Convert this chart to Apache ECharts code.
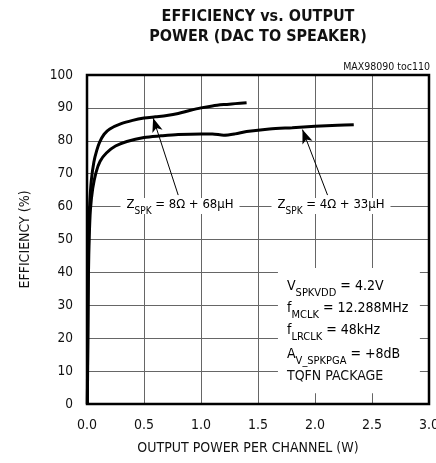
<!DOCTYPE html>
<html><head><meta charset="utf-8">
<script src="https://cdn.jsdelivr.net/npm/echarts@6/dist/echarts.min.js"></script>
<style>html,body{margin:0;padding:0;background:#fff}#c{width:436px;height:463px}</style>
</head><body><div id="c"></div>
<script>
// Data (x = output power per channel in W, y = efficiency in %)
const eff8ohm = [[0.003,0],[0.006,20],[0.010,40],[0.016,53],[0.024,61],[0.038,68],[0.06,73.5],[0.085,77],[0.11,79.5],[0.15,82],[0.2,83.6],[0.3,85.2],[0.4,86.2],[0.5,86.9],[0.6,87.3],[0.7,87.7],[0.8,88.3],[0.9,89.2],[1.0,90],[1.1,90.6],[1.2,91],[1.3,91.3],[1.4,91.6]];
const eff4ohm = [[0.003,0],[0.008,20],[0.013,40],[0.02,51],[0.03,59],[0.05,65.5],[0.08,70.5],[0.115,73.8],[0.17,76.3],[0.25,78.4],[0.35,79.8],[0.5,81],[0.65,81.5],[0.8,81.9],[1.0,82.1],[1.1,82.1],[1.2,81.7],[1.3,82.1],[1.4,82.8],[1.6,83.6],[1.8,84],[2.0,84.4],[2.2,84.7],[2.34,84.9]];
const xTicks = ['0.0','0.5','1.0','1.5','2.0','2.5','3.0'];
const yTicks = [0,10,20,30,40,50,60,70,80,90,100];
const arrow8 = [[0.80,63.5],[0.58,86.9]];
const arrow4 = [[2.11,63.5],[1.89,83.4]];
const noteBox = [[1.675,3.3],[2.92,41.3]];

const FONT = '"Liberation Sans Narrow","DejaVu Sans Condensed","Roboto",sans-serif';
const chart = echarts.init(document.getElementById('c'));
function rich(main, sub, lh, pad){
  return {
    n:{fontFamily:FONT,fontSize:main,color:'#111',lineHeight:lh,verticalAlign:'top'},
    s:{fontFamily:FONT,fontSize:sub,color:'#111',lineHeight:sub+1,padding:[pad,0,0,0],verticalAlign:'top'}
  };
}
const zRich = rich(13,10,16,8);
const boxRich = rich(14,11,18,9);
chart.setOption({
  animation:false,
  grid:{left:87,right:7,top:75,bottom:59,show:true,borderColor:'#000',borderWidth:2.5,z:3,
    containLabel:false,outerBoundsMode:'none'},
  xAxis:{type:'value',min:0,max:3,interval:0.5,
    axisLine:{show:false},axisTick:{show:false},
    splitLine:{show:true,lineStyle:{color:'#666',width:1}},
    axisLabel:{fontFamily:FONT,fontSize:14,color:'#111',margin:14,formatter:(v)=>xTicks[Math.round(v*2)]},
    name:'OUTPUT POWER PER CHANNEL (W)',nameLocation:'middle',nameGap:37,
    nameTextStyle:{fontFamily:FONT,fontSize:14,color:'#111',padding:[0,20,0,0]}},
  yAxis:{type:'value',min:0,max:100,interval:10,
    axisLine:{show:false},axisTick:{show:false},
    splitLine:{show:true,lineStyle:{color:'#666',width:1}},
    axisLabel:{fontFamily:FONT,fontSize:13.5,color:'#111',margin:14,formatter:(v)=>String(yTicks[Math.round(v/10)])},
    name:'EFFICIENCY (%)',nameLocation:'middle',nameGap:55,nameRotate:90,
    nameTextStyle:{fontFamily:FONT,fontSize:14,color:'#111'}},
  series:[
    {type:'line',data:eff8ohm,smooth:0.3,symbol:'none',lineStyle:{color:'#000',width:3},z:5,
      markLine:{silent:true,symbol:['none','arrow'],symbolSize:[8,14],
        lineStyle:{color:'#000',width:1,type:'solid'},label:{show:false},
        data:[[{coord:arrow8[0]},{coord:arrow8[1]}],[{coord:arrow4[0]},{coord:arrow4[1]}]]}},
    {type:'line',data:eff4ohm,smooth:0.3,symbol:'none',lineStyle:{color:'#000',width:3},z:5,
      markArea:{silent:true,itemStyle:{color:'#fff'},data:[[{coord:noteBox[0]},{coord:noteBox[1]}]]}}
  ],
  graphic:[
    {type:'text',x:258,y:7,z:100,style:{text:'EFFICIENCY vs. OUTPUT\nPOWER (DAC TO SPEAKER)',textAlign:'center',
      font:'bold 16px '+FONT,fill:'#111',lineHeight:20}},
    {type:'text',x:430,y:62,z:100,style:{text:'MAX98090 toc110',textAlign:'right',font:'10.5px '+FONT,fill:'#111'}},
    {type:'text',x:180,y:198,z:100,style:{text:'{n|Z}{s|SPK}{n| = 8Ω + 68μH}',textAlign:'center',rich:zRich,
      backgroundColor:'#fff',padding:[0,6,0,6]}},
    {type:'text',x:331,y:198,z:100,style:{text:'{n|Z}{s|SPK}{n| = 4Ω + 33μH}',textAlign:'center',rich:zRich,
      backgroundColor:'#fff',padding:[0,6,0,6]}},
    {type:'text',x:287,y:279,z:100,style:{text:'{n|V}{s|SPKVDD}{n| = 4.2V}',rich:boxRich}},
    {type:'text',x:287,y:301,z:100,style:{text:'{n|f}{s|MCLK}{n| = 12.288MHz}',rich:boxRich}},
    {type:'text',x:287,y:323,z:100,style:{text:'{n|f}{s|LRCLK}{n| = 48kHz}',rich:boxRich}},
    {type:'text',x:287,y:347,z:100,style:{text:'{n|A}{s|V_SPKPGA}{n| = +8dB}',rich:boxRich}},
    {type:'text',x:287,y:369,z:100,style:{text:'TQFN PACKAGE',font:'14px '+FONT,fill:'#111'}}
  ]
});
</script></body></html>
